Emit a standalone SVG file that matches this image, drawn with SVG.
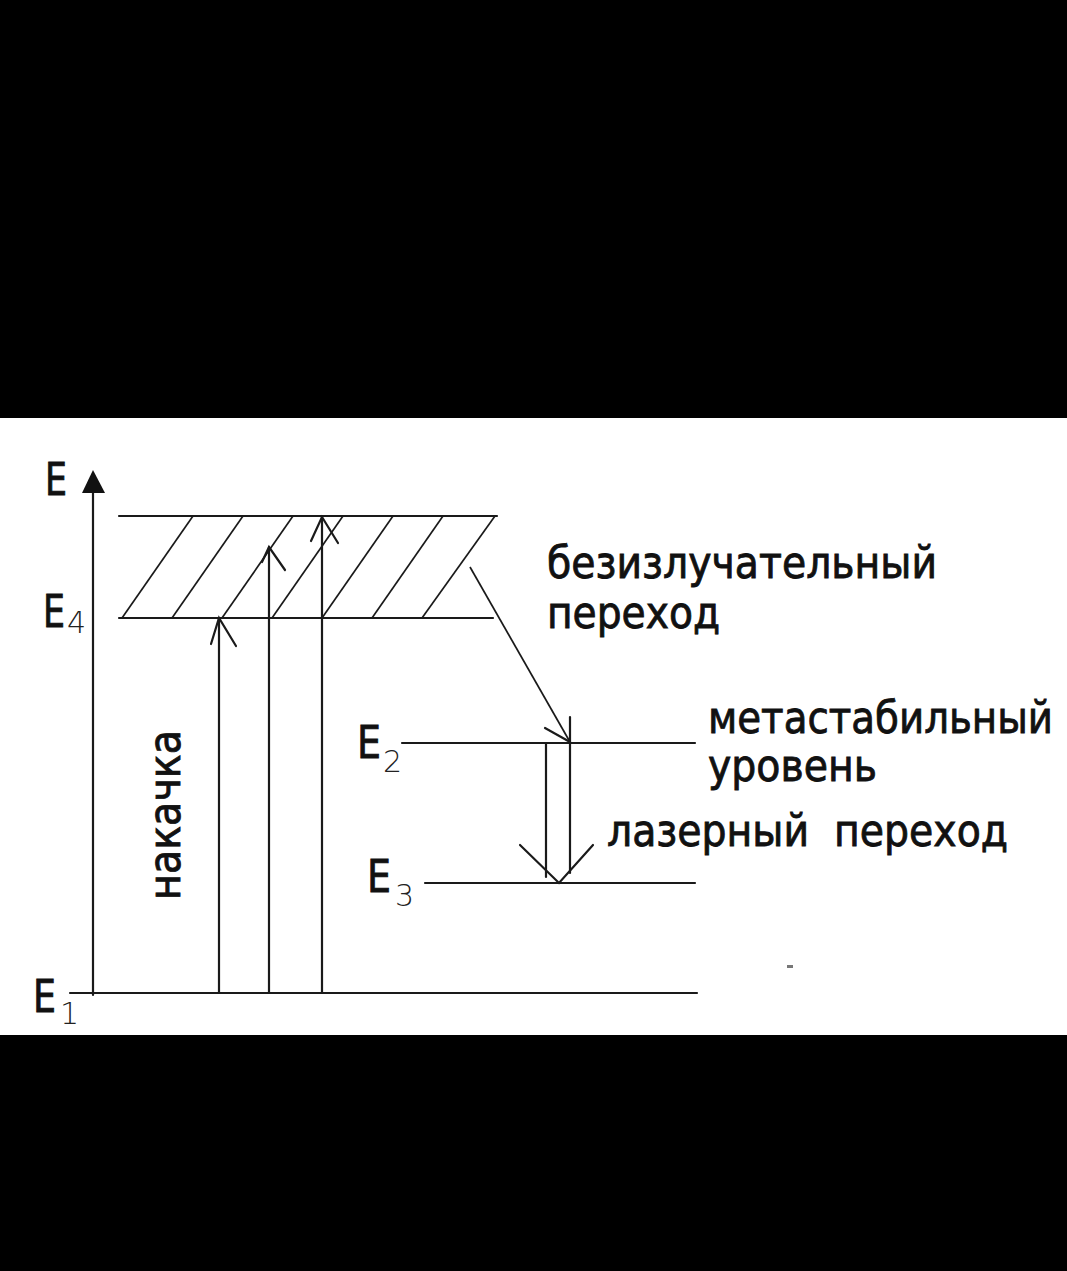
<svg xmlns="http://www.w3.org/2000/svg" width="1067" height="1271" viewBox="0 0 1067 1271">
<style>
.ln{stroke:#1a1a1a;stroke-width:2.2;fill:none;stroke-linecap:round}
.h{stroke:#1a1a1a;stroke-width:1.7;fill:none}
.t{font-family:"DejaVu Sans","Verdana",sans-serif;font-size:45px;fill:#111;stroke:#111;stroke-width:0.9}
.s{font-family:"DejaVu Sans",sans-serif;font-weight:200;font-size:30px;fill:#222}
.pre{white-space:pre}
</style>
<rect x="0" y="0" width="1067" height="1271" fill="#000"/>
<rect x="0" y="418" width="1067" height="617" fill="#fff"/>

<g id="axis">
<line class="ln" x1="93" y1="490" x2="93" y2="995"/>
<polygon points="93,470 82,493 105,493" fill="#111"/>
<text class="t" x="45" y="495" textLength="22" lengthAdjust="spacingAndGlyphs">E</text>
</g>

<g id="E4-band">
<line class="ln" x1="119" y1="516" x2="497" y2="516"/>
<line class="ln" x1="119" y1="618" x2="493" y2="618"/>
<g class="h">
<line x1="122" y1="618" x2="193" y2="516"/>
<line x1="172" y1="618" x2="243" y2="516"/>
<line x1="222" y1="618" x2="293" y2="516"/>
<line x1="272" y1="618" x2="343" y2="516"/>
<line x1="322" y1="618" x2="393" y2="516"/>
<line x1="372" y1="618" x2="443" y2="516"/>
<line x1="422" y1="618" x2="495" y2="516"/>
</g>
<text class="t" x="43" y="627" textLength="22" lengthAdjust="spacingAndGlyphs">E</text><text class="s" x="67" y="633">4</text>
</g>

<g id="E2">
<line class="ln" x1="402" y1="743" x2="695" y2="743"/>
<text class="t" x="357" y="758" textLength="24" lengthAdjust="spacingAndGlyphs">E</text><text class="s" x="383" y="772">2</text>
</g>

<g id="E3">
<line class="ln" x1="425" y1="883" x2="695" y2="883"/>
<text class="t" x="367" y="892" textLength="24" lengthAdjust="spacingAndGlyphs">E</text><text class="s" x="395" y="906">3</text>
</g>

<g id="E1">
<line class="ln" x1="70" y1="993" x2="697" y2="993"/>
<text class="t" x="33" y="1012" textLength="23" lengthAdjust="spacingAndGlyphs">E</text><text class="s" x="60" y="1024">1</text>
</g>

<g id="labels">
<text class="t" x="547" y="578" textLength="390" lengthAdjust="spacingAndGlyphs">безизлучательный</text>
<text class="t" x="547" y="628" textLength="173" lengthAdjust="spacingAndGlyphs">переход</text>
<text class="t" x="708" y="733" textLength="345" lengthAdjust="spacingAndGlyphs">метастабильный</text>
<text class="t" x="708" y="781" textLength="169" lengthAdjust="spacingAndGlyphs">уровень</text>
<text class="t pre" x="607" y="846" textLength="401" lengthAdjust="spacingAndGlyphs">лазерный  переход</text>
<text class="t" transform="translate(180,900) rotate(-90)" x="0" y="0" textLength="170" lengthAdjust="spacingAndGlyphs">накачка</text>
</g>

<g id="connectors">
<line class="ln" x1="219" y1="993" x2="219" y2="618"/>
<polyline class="ln" points="211,644 219,618 236,646"/>
<line class="ln" x1="269" y1="993" x2="269" y2="547"/>
<polyline class="ln" points="262,562 269,547 285,570"/>
<line class="ln" x1="322" y1="993" x2="322" y2="517"/>
<polyline class="ln" points="311,541 322,517 338,543"/>
<line class="h" x1="470" y1="567" x2="570" y2="742"/>
<line class="ln" x1="545" y1="728" x2="570" y2="742"/>
<line class="ln" x1="546" y1="743" x2="546" y2="877"/>
<line class="ln" x1="570" y1="717" x2="570" y2="873"/>
<polyline class="ln" points="520,845 559,883 593,845"/>
</g>

<rect x="787" y="965" width="6" height="3" fill="#777"/>
</svg>
